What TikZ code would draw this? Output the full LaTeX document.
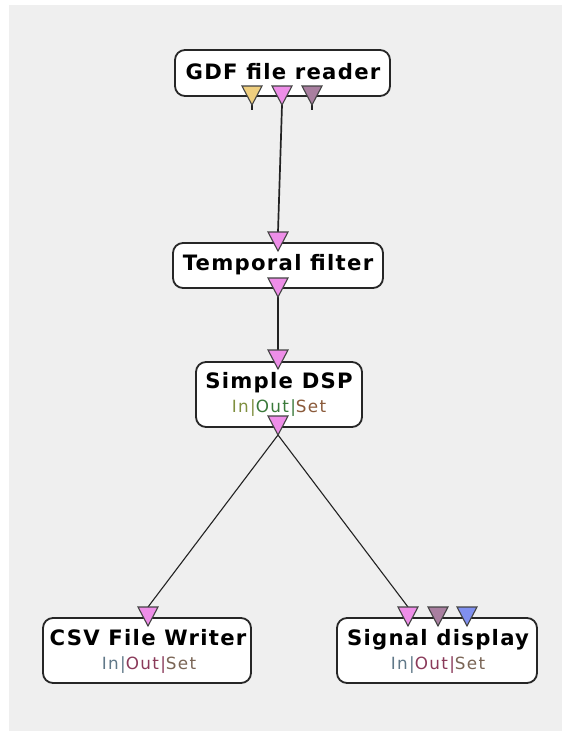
\documentclass[tikz,border=0pt]{standalone}
\usepackage{fontspec}
\newfontfamily\titlefont{DejaVu Sans}[LetterSpace=6]
\newfontfamily\iofont{DejaVu Sans}[LetterSpace=8]

\definecolor{canvas}{HTML}{EFEFEF}
\definecolor{boxline}{HTML}{262626}
\definecolor{wire}{HTML}{222222}
\definecolor{portline}{HTML}{444444}
\definecolor{portyellow}{HTML}{EFCF7F}
\definecolor{portpink}{HTML}{EE8EE8}
\definecolor{portplum}{HTML}{A97FA0}
\definecolor{portblue}{HTML}{8090F0}
% colours of the In|Out|Set line
\definecolor{dspin}{HTML}{7F8F3F}
\definecolor{dspout}{HTML}{3A7A3A}
\definecolor{dspset}{HTML}{8A5A3A}
\definecolor{sinkin}{HTML}{607888}
\definecolor{sinkout}{HTML}{8A3A5A}
\definecolor{sinkset}{HTML}{7A6555}

% a port triangle: name, centre x, top y, fill colour
\newcommand\portat[4]{%
  \coordinate (#1) at (#2,#3);
  \coordinate (#1-tip) at (#2,#3+19);
  \filldraw[port=#4] (#1) ++(-10,0) -- ++(20,0) -- ++(-10,19) -- cycle;
}

\begin{document}
\begin{tikzpicture}[x=1pt,y=-1pt,
  box/.style={draw=boxline, line width=1.8pt, fill=white, rounded corners=10pt, inner sep=0pt},
  title/.style={font=\titlefont\bfseries\fontsize{21.2}{23}\selectfont, text=black, anchor=base, inner sep=0pt},
  io/.style={font=\iofont\fontsize{16.8}{19}\selectfont, anchor=base, inner sep=0pt},
  link/.style={draw=wire, line width=1.7pt},
  thinlink/.style={draw=wire, line width=1.1pt},
  port/.style={draw=portline, line width=1.1pt, line join=miter, fill=#1}
]
\useasboundingbox (0,0) rectangle (562,731);
\fill[white] (0,0) rectangle (562,731);
\fill[canvas] (9,5) rectangle (562,731);

% port positions
\coordinate (gdf-y) at (252,86);   \coordinate (gdf-y-tip) at (252,105);
\coordinate (gdf-p) at (282,86);   \coordinate (gdf-p-tip) at (282,105);
\coordinate (gdf-m) at (312,86);   \coordinate (gdf-m-tip) at (312,105);
\coordinate (tf-in) at (278,232);
\coordinate (tf-out) at (278,278); \coordinate (tf-out-tip) at (278,297);
\coordinate (dsp-in) at (278,350);
\coordinate (dsp-out) at (278,416); \coordinate (dsp-out-tip) at (278,435);
\coordinate (csv-in) at (148,607);
\coordinate (sd-p) at (408,607);

% connectors
\draw[link] (gdf-p-tip) -- (tf-in);
\draw[link] (gdf-y-tip) -- ++(0,5);
\draw[link] (gdf-m-tip) -- ++(0,5);
\draw[link] (tf-out-tip) -- (dsp-in);
\draw[thinlink] (dsp-out-tip) -- (csv-in);
\draw[thinlink] (dsp-out-tip) -- (sd-p);

% boxes
\node[box, minimum width=215pt, minimum height=46pt] (gdf) at (282.5,73) {};
\node[box, minimum width=210pt, minimum height=45pt] (tf) at (278,265.5) {};
\node[box, minimum width=166pt, minimum height=65pt] (dsp) at (279,394.5) {};
\node[box, minimum width=208pt, minimum height=65pt] (csv) at (147,650.5) {};
\node[box, minimum width=200pt, minimum height=65pt] (sd) at (437,650.5) {};

% labels
\node[title] (gdf-t) at (283,79) {GDF file reader};
\node[title] (tf-t) at (278,270) {Temporal filter};
\node[title] (dsp-t) at (279,388) {Simple DSP};
\node[io] (dsp-io) at (279,412) {\textcolor{dspin}{In|}\textcolor{dspout}{Out|}\textcolor{dspset}{Set}};
\node[title] (csv-t) at (148,645) {CSV File Writer};
\node[io] (csv-io) at (149,669) {\textcolor{sinkin}{In|}\textcolor{sinkout}{Out|}\textcolor{sinkset}{Set}};
\node[title] (sd-t) at (438,645) {Signal display};
\node[io] (sd-io) at (438,669) {\textcolor{sinkin}{In|}\textcolor{sinkout}{Out|}\textcolor{sinkset}{Set}};

% ports
\portat{gdf-y}{252}{86}{portyellow}
\portat{gdf-p}{282}{86}{portpink}
\portat{gdf-m}{312}{86}{portplum}
\portat{tf-in}{278}{232}{portpink}
\portat{tf-out}{278}{278}{portpink}
\portat{dsp-in}{278}{350}{portpink}
\portat{dsp-out}{278}{416}{portpink}
\portat{csv-in}{148}{607}{portpink}
\portat{sd-p}{408}{607}{portpink}
\portat{sd-m}{438}{607}{portplum}
\portat{sd-b}{467}{607}{portblue}
\end{tikzpicture}
\end{document}
